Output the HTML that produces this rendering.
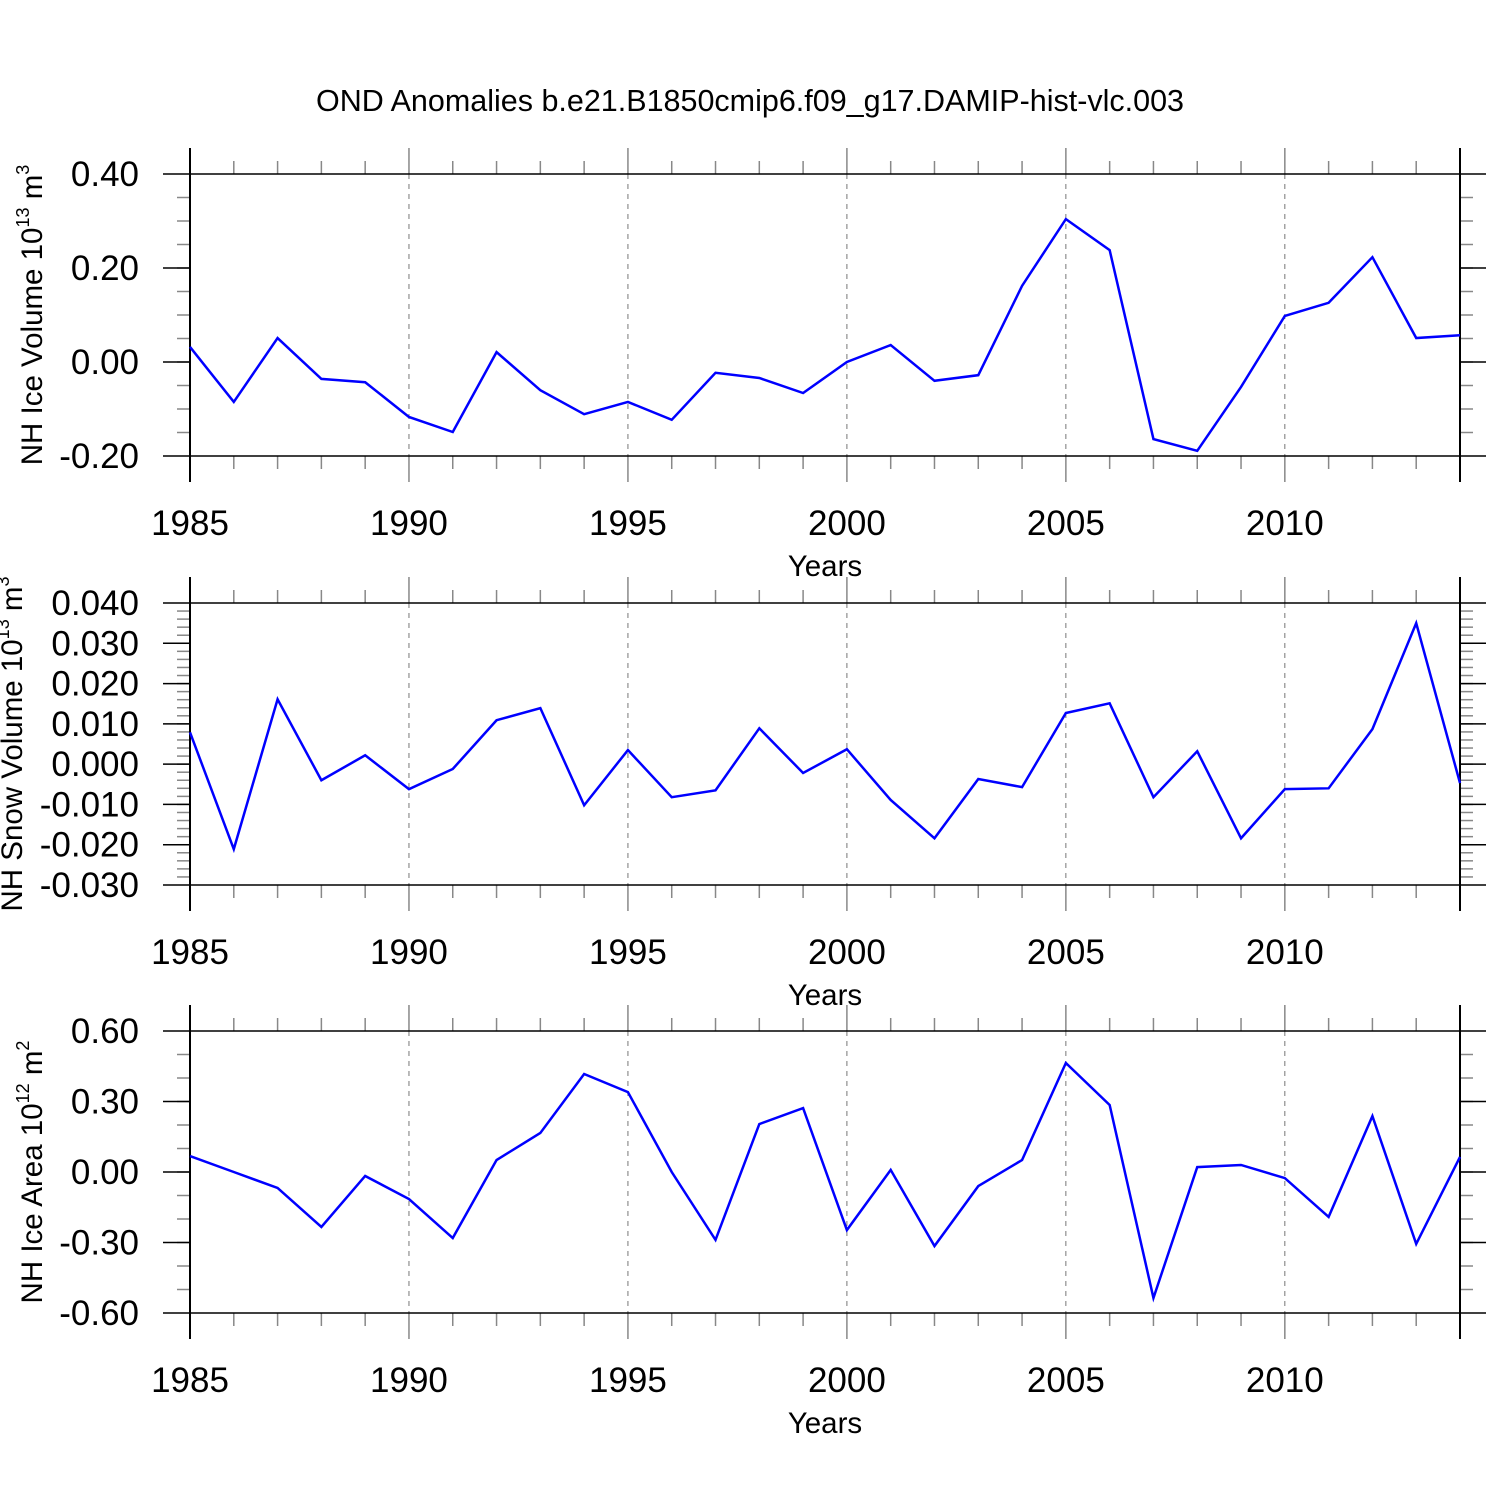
<!DOCTYPE html>
<html><head><meta charset="utf-8"><style>body{margin:0;background:#fff}svg{display:block}text{font-family:"Liberation Sans",sans-serif}</style></head>
<body>
<svg id="c" width="1500" height="1500"></svg>
<script>
const years=[];for(let y=1985;y<=2014;y++)years.push(y);
const xTickLabels=[1985,1990,1995,2000,2005,2010];
const iceVol=[0.032,-0.085,0.051,-0.036,-0.043,-0.117,-0.149,0.021,-0.060,-0.111,-0.085,-0.123,-0.023,-0.034,-0.066,0.0,0.036,-0.040,-0.028,0.162,0.304,0.238,-0.164,-0.189,-0.053,0.098,0.126,0.223,0.051,0.057];
const snowVol=[0.0079,-0.0211,0.0161,-0.0040,0.0022,-0.0062,-0.0012,0.0109,0.0139,-0.0102,0.0035,-0.0082,-0.0065,0.0089,-0.0022,0.0037,-0.0089,-0.0184,-0.0037,-0.0057,0.0127,0.0151,-0.0082,0.0032,-0.0184,-0.0062,-0.0060,0.0087,0.0350,-0.0047];
const iceArea=[0.068,0.0,-0.068,-0.234,-0.017,-0.115,-0.281,0.051,0.166,0.417,0.340,0.0,-0.289,0.204,0.272,-0.247,0.009,-0.315,-0.060,0.051,0.464,0.285,-0.536,0.021,0.030,-0.026,-0.191,0.238,-0.306,0.064];
const iceVolTicks=["0.40","0.20","0.00","-0.20"];
const snowTicks=["0.040","0.030","0.020","0.010","0.000","-0.010","-0.020","-0.030"];
const areaTicks=["0.60","0.30","0.00","-0.30","-0.60"];
const NS="http://www.w3.org/2000/svg",svg=document.getElementById('c');
function el(t,a,p){const e=document.createElementNS(NS,t);for(const k in a)e.setAttribute(k,a[k]);(p||svg).appendChild(e);return e;}
const X0=190,X1=1460;
const xs=y=>X0+(y-1985)*(X1-X0)/29;
const t=el('text',{x:750,y:111,'font-size':30.5,'text-anchor':'middle'});t.textContent='OND Anomalies b.e21.B1850cmip6.f09_g17.DAMIP-hist-vlc.003';


function panel(name,top,bot,vmin,vmax,ticks,minorStep,data,titleParts,titleX){
 const g=el('g',{});
 
 
 const ys=v=>bot-(v-vmin)*(bot-top)/(vmax-vmin);
 xTickLabels.slice(1).forEach(y=>el('line',{x1:xs(y),x2:xs(y),y1:top,y2:bot,stroke:'#777','stroke-width':1,'stroke-dasharray':'5,5'},g));
 const n=Math.round((vmax-vmin)/minorStep);
 for(let i=1;i<n;i++){const yy=bot-i*(bot-top)/n;
  el('line',{x1:177,x2:X0,y1:yy,y2:yy,stroke:'#888','stroke-width':1.5},g);
  el('line',{x1:X1,x2:X1+13,y1:yy,y2:yy,stroke:'#888','stroke-width':1.5},g);}
 ticks.forEach(s=>{const v=parseFloat(s),yy=ys(v);
  el('line',{x1:163,x2:X0,y1:yy,y2:yy,stroke:'#000','stroke-width':1.5},g);
  el('line',{x1:X1,x2:X1+26,y1:yy,y2:yy,stroke:'#000','stroke-width':1.5},g);
  const l=el('text',{x:139,y:yy+12,'font-size':35,'text-anchor':'end'},g);l.textContent=s;
  
  });
 years.forEach(y=>{const major=xTickLabels.includes(y)||y===2014;const len=major?26:13;
  if(y!==1985&&y!==2014){el('line',{x1:xs(y),x2:xs(y),y1:top-len,y2:top,stroke:'#888','stroke-width':1.5},g);
  el('line',{x1:xs(y),x2:xs(y),y1:bot,y2:bot+len,stroke:'#888','stroke-width':1.5},g);}});
 el('line',{x1:X0,x2:X0,y1:top-26,y2:bot+26,stroke:'#000','stroke-width':2},g);
 el('line',{x1:X1,x2:X1,y1:top-26,y2:bot+26,stroke:'#000','stroke-width':2},g);
 el('line',{x1:X0,x2:X1,y1:top,y2:top,stroke:'#000','stroke-width':1.5},g);
 el('line',{x1:X0,x2:X1,y1:bot,y2:bot,stroke:'#000','stroke-width':1.5},g);
 xTickLabels.forEach(y=>{const l=el('text',{x:xs(y),y:bot+79,'font-size':35,'text-anchor':'middle'},g);l.textContent=y;
  
  });
 const xt=el('text',{x:825,y:bot+120,'font-size':29.5,'text-anchor':'middle'},g);xt.textContent='Years';
 
 
 const cy=(top+bot)/2;
 const yt=el('text',{x:0,y:0,'font-size':29.5,'text-anchor':'middle',transform:`translate(${titleX},${cy}) rotate(-90)`},g);
 yt.innerHTML=titleParts;
 
 
 const pl=el('polyline',{points:data.map((v,i)=>xs(years[i])+','+ys(v)).join(' '),fill:'none',stroke:'#00f','stroke-width':2.5,'stroke-linejoin':'miter'},g);
 
 
}
panel('ice-volume-panel',174,456,-0.2,0.4,iceVolTicks,0.05,iceVol,'NH Ice Volume 10<tspan font-size="18" dy="-13">13</tspan><tspan dy="13"> m</tspan><tspan font-size="18" dy="-13">3</tspan>',42);
panel('snow-volume-panel',603,885,-0.03,0.04,snowTicks,0.002,snowVol,'NH Snow Volume 10<tspan font-size="18" dy="-13">13</tspan><tspan dy="13"> m</tspan><tspan font-size="18" dy="-13">3</tspan>',22);
panel('ice-area-panel',1031,1313,-0.6,0.6,areaTicks,0.1,iceArea,'NH Ice Area 10<tspan font-size="18" dy="-13">12</tspan><tspan dy="13"> m</tspan><tspan font-size="18" dy="-13">2</tspan>',42);
</script>
</body></html>
